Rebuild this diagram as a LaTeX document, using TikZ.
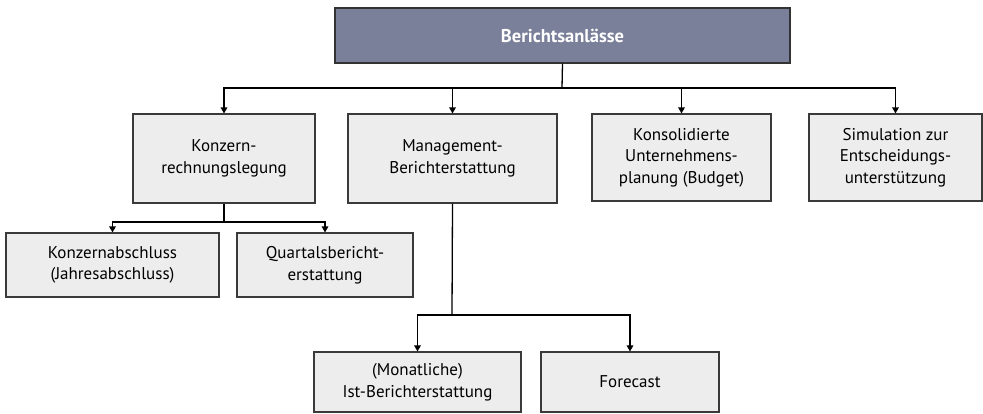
\documentclass[tikz,border=0pt]{standalone}
\usepackage{fontspec}
\setmainfont{PT Sans}
\usetikzlibrary{arrows.meta}
\definecolor{headfill}{HTML}{7A8099}
\definecolor{boxfill}{HTML}{EDEDED}
\definecolor{boxline}{HTML}{3A3A3A}
\begin{document}
\begin{tikzpicture}[x=1pt,y=-1pt,
  box/.style={draw=boxline, line width=1.1pt, fill=boxfill, align=center,
    inner sep=0pt, font=\fontsize{17}{21.5}\selectfont, text=black},
  head/.style={box, fill=headfill, text=white, draw=black!80,
    font=\fontsize{18.5}{22}\selectfont\bfseries},
  conn/.style={line width=1.3pt, black},
  arr/.style={conn, -{Triangle[length=6pt,width=6.5pt]}}]
\useasboundingbox (0,0) rectangle (983,414);

% root
\node[head, minimum width=455pt, minimum height=55pt] (top) at (562.5,35.5) {Berichtsanlässe};

% first level
\node[box, minimum width=182pt, minimum height=89pt] (kr) at (224,158.5) {Konzern-\\rechnungslegung};
\node[box, minimum width=209pt, minimum height=89pt] (mb) at (452.5,158.5) {Management-\\Berichterstattung};
\node[box, minimum width=179pt, minimum height=87pt] (ku) at (681.5,157.5) {Konsolidierte\\Unternehmens-\\planung (Budget)};
\node[box, minimum width=173pt, minimum height=87pt] (se) at (895.5,157.5) {Simulation zur\\Entscheidungs-\\unterstützung};

% second level
\node[box, minimum width=213pt, minimum height=64pt] (ka) at (112.5,265) {Konzernabschluss\\(Jahresabschluss)};
\node[box, minimum width=176pt, minimum height=64pt] (qb) at (325,265) {Quartalsbericht-\\erstattung};
\node[box, minimum width=207pt, minimum height=60pt] (mi) at (417.5,382) {(Monatliche)\\Ist-Berichterstattung};
\node[box, minimum width=178pt, minimum height=60pt] (fc) at (630,382) {Forecast};

% junction points
\coordinate (j0) at (562,88);
\coordinate (j1) at (224,222);
\coordinate (j2) at (452,315);

% connectors
\draw[conn] (top.south) -- (j0);
\draw[arr] (j0) -| (kr.north);
\draw[arr] (j0) -| (mb.north);
\draw[arr] (j0) -| (ku.north);
\draw[arr] (j0) -| (se.north);

\draw[conn] (kr.south) -- (j1);
\draw[arr] (j1) -| (ka.north);
\draw[arr] (j1) -| (qb.north);

\draw[conn] (mb.south) -- (j2);
\draw[arr] (j2) -| (mi.north);
\draw[arr] (j2) -| (fc.north);
\end{tikzpicture}
\end{document}
